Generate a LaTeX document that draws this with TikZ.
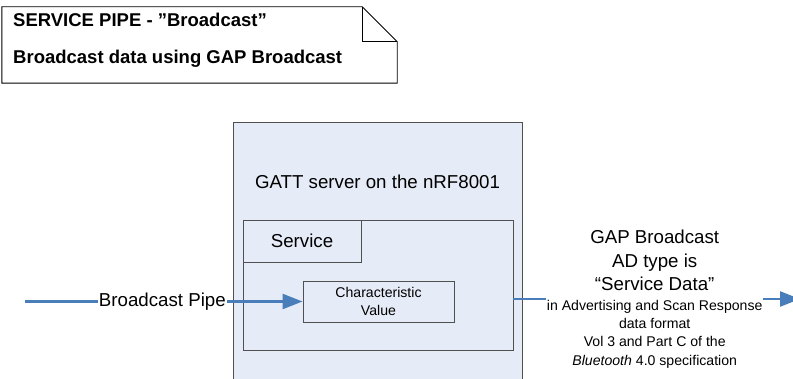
\documentclass[tikz,border=0pt]{standalone}
\usepackage{fontspec}
\setmainfont{Liberation Sans}
\usetikzlibrary{arrows.meta,calc}
\definecolor{pipeblue}{HTML}{4A7EBB}
\definecolor{boxfill}{HTML}{E6ECF7}
\definecolor{boxline}{HTML}{505050}
\begin{document}
\begin{tikzpicture}[x=1pt,y=-1pt,
  bigfont/.style={font=\fontsize{18.7}{22}\selectfont},
  smallfont/.style={font=\fontsize{14.1}{18}\selectfont},
  notefont/.style={font=\bfseries\fontsize{18.5}{22}\selectfont},
  boxshape/.style={draw=boxline, line width=0.9pt, fill=boxfill, inner sep=0pt},
  pipe/.style={draw=pipeblue, line width=2.4pt, -{Triangle[length=20pt,width=15pt]}},
  pipelabel/.style={fill=white, inner sep=1pt}
]
\useasboundingbox (0,0) rectangle (793,379);
\clip (0,0) rectangle (793,379);
\fill[white] (0,0) rectangle (793,379);

% note
\node[minimum width=395pt, minimum height=76pt, inner sep=0pt] (note) at (199.5,45) {};
\draw[black, line width=0.9pt]
  (note.north west) -- ($(note.north east)+(-35,0)$) -- ($(note.north east)+(0,35)$)
  -- (note.south east) -- (note.south west) -- cycle;
\draw[black, line width=0.9pt]
  ($(note.north east)+(-35,0)$) -- ($(note.north east)+(-35,35)$) -- ($(note.north east)+(0,35)$);
\node[notefont, anchor=base west, inner sep=0pt] (notet1) at (13,27) {SERVICE PIPE - ”Broadcast”};
\node[notefont, anchor=base west, inner sep=0pt] (notet2) at (13,63.5) {Broadcast data using GAP Broadcast};

% GATT server box
\node[boxshape, minimum width=289pt, minimum height=278pt] (gatt) at (377.5,261) {};
\node[bigfont, inner sep=0pt] (gatttext) at (377.5,182) {GATT server on the nRF8001};

% service
\node[boxshape, minimum width=270pt, minimum height=130pt] (svc) at (378,285) {};
\node[boxshape, minimum width=118pt, minimum height=42pt, bigfont] (svctab) at (302,241) {Service};

% characteristic value
\node[boxshape, minimum width=151pt, minimum height=41pt, smallfont, align=center] (cv) at (378.5,301.5) {Characteristic\\Value};

% input pipe
\coordinate (instart) at (25,301.5);
\draw[pipe] (instart) -- node[pipelabel, bigfont, pos=0.495] (inlbl) {Broadcast Pipe} (cv.west);

% output pipe
\coordinate (outend) at (800,299);
\draw[pipe] (svc.east |- outend) -- node[pipelabel, smallfont, align=center, pos=0.493] (outlbl)
  {{\fontsize{18.7}{22}\selectfont GAP Broadcast}\\[5.5pt]
   {\fontsize{18.7}{22}\selectfont AD type is}\\[5.5pt]
   {\fontsize{18.7}{22}\selectfont “Service Data”}\\[1.5pt]
   in Advertising and Scan Response\\[0.3pt]
   data format\\[0.3pt]
   Vol 3 and Part C of the\\[0.3pt]
   \textit{Bluetooth} 4.0 specification} (outend);
\end{tikzpicture}
\end{document}
